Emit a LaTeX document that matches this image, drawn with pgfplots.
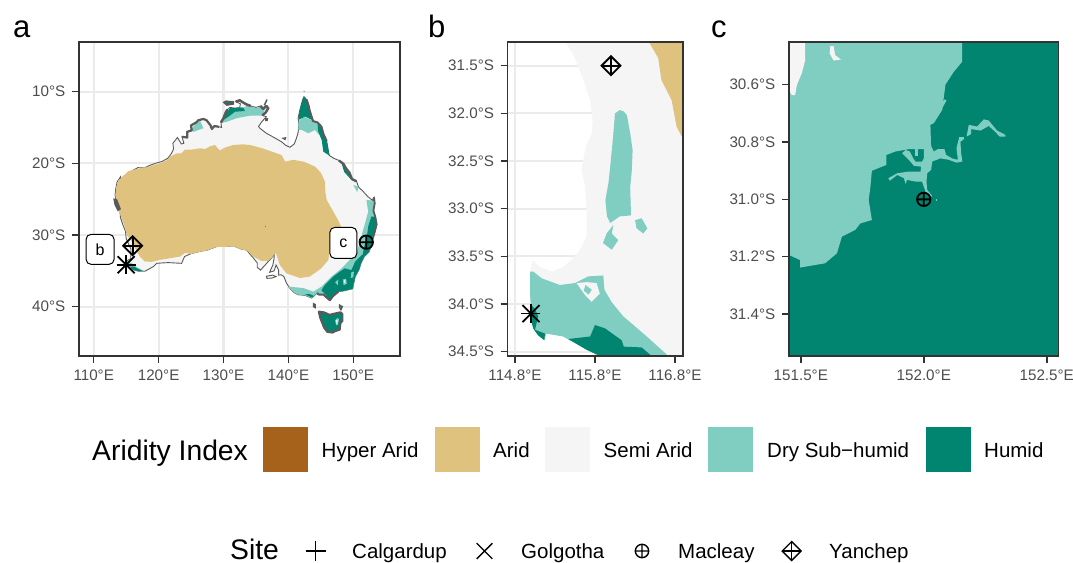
\documentclass[border=0pt]{standalone}
\usepackage{pgfplots}
\pgfplotsset{compat=1.18}
\usepackage{fontspec}
\setmainfont{Liberation Sans}
\definecolor{hyper}{HTML}{A6611A}
\definecolor{arid}{HTML}{DFC27D}
\definecolor{semi}{HTML}{F5F5F5}
\definecolor{dry}{HTML}{80CDC1}
\definecolor{humid}{HTML}{018571}
\definecolor{gridc}{HTML}{EBEBEB}
\definecolor{framec}{HTML}{333333}
\definecolor{tickc}{HTML}{4D4D4D}
\definecolor{coast}{HTML}{5A5A5A}
\pgfplotsset{
  panel/.style={
    scale only axis, anchor=south west, height=314pt,
    xtick pos=bottom, ytick pos=left, tick align=outside,
    major tick length=7pt, tick style={color=framec,line width=1.5pt},
    grid=major, grid style={color=gridc,line width=2.2pt},
    axis line style={color=framec,line width=1.5pt},
    ticklabel style={font=\fontsize{15.2}{16}\selectfont,color=tickc,inner sep=0pt},
    xticklabel style={yshift=-7pt},
    yticklabel style={xshift=-6.5pt},
    after end axis/.code={\draw[color=framec,line width=1.5pt] (rel axis cs:0,0) rectangle (rel axis cs:1,1);},
  },
  fil/.style={draw=none,fill=#1},
  rug/.style={draw=coast,line width=#1,line join=round},
  site/.style={only marks,black,line width=1.8pt},
  lsite/.style={only marks,black,line width=1.4pt},
}
\begin{document}
\begin{tikzpicture}[x=1pt,y=1pt]
\useasboundingbox (0,0) rectangle (1073,562);
% ------- panel a
\begin{axis}[panel, at={(79pt,206pt)}, width=321pt,
  xmin=107.73,xmax=157.2,ymin=-46.88,ymax=-3.07,
  xtick={110,120,130,140,150}, xticklabels={110°E,120°E,130°E,140°E,150°E},
  ytick={-40,-30,-20,-10}, yticklabels={40°S,30°S,20°S,10°S}]
% land
\addplot[draw=coast,line width=0.9pt,fill=semi] coordinates {
(114.15,-21.85)(114.2,-22.4)(114.6,-21.8)(115.1,-21.6)(116.0,-21.0)(116.8,-20.6)(117.8,-20.65)(118.6,-20.3)(119.5,-20.0)(120.5,-19.75)(121.4,-19.3)(122.0,-18.6)(122.3,-18.0)(122.2,-17.2)(122.9,-16.4)(123.5,-17.3)(123.9,-17.2)(123.6,-16.3)(124.4,-16.4)(124.4,-15.6)(125.1,-15.4)(125.0,-14.7)(125.8,-14.3)(126.1,-14.0)(126.9,-13.8)(127.4,-14.0)(128.0,-14.7)(128.2,-15.2)(128.6,-14.8)(129.3,-14.9)(129.7,-15.0)(129.6,-14.3)(130.0,-13.7)(130.3,-13.0)(130.6,-12.5)(131.0,-12.2)(131.8,-12.3)(132.5,-12.2)(132.6,-11.7)(131.9,-11.4)(132.5,-11.2)(133.0,-11.5)(133.6,-11.8)(134.2,-12.0)(135.0,-12.2)(135.7,-12.0)(136.1,-12.4)(136.6,-12.0)(136.9,-12.3)(136.5,-12.9)(136.0,-13.3)(136.6,-13.5)(135.9,-14.2)(135.4,-14.85)(135.6,-15.1)(136.6,-15.8)(137.8,-16.4)(138.96,-17.0)(139.6,-17.5)(140.25,-17.76)(140.9,-17.3)(141.2,-16.6)(141.5,-15.7)(141.6,-14.7)(141.5,-13.7)(141.7,-12.8)(141.9,-12.1)(142.2,-11.1)(142.4,-10.7)(142.8,-11.1)(143.1,-11.9)(143.3,-12.7)(143.8,-14.1)(144.5,-14.3)(145.1,-14.9)(145.4,-15.9)(145.9,-16.9)(146.1,-17.9)(146.3,-18.9)(147.0,-19.3)(147.8,-19.6)(148.5,-20.1)(148.8,-20.6)(149.4,-21.3)(149.8,-22.2)(150.5,-22.5)(150.8,-23.3)(151.5,-23.9)(152.2,-24.6)(153.0,-25.2)(153.2,-24.8)(153.3,-25.6)(153.1,-26.6)(153.4,-27.5)(153.6,-28.5)(153.3,-29.6)(153.0,-30.5)(152.8,-31.5)(152.4,-32.4)(151.7,-33.0)(151.2,-33.9)(150.9,-34.8)(150.3,-35.8)(150.0,-37.0)(149.9,-37.5)(148.5,-37.8)(147.7,-37.9)(146.9,-38.5)(146.4,-39.1)(146.0,-38.8)(145.4,-38.3)(144.7,-38.3)(144.4,-38.1)(143.6,-38.8)(142.5,-38.4)(141.6,-38.35)(140.9,-38.05)(140.2,-37.4)(139.7,-36.7)(139.3,-35.8)(138.9,-35.55)(138.5,-35.6)(138.5,-34.9)(138.1,-34.2)(137.8,-35.0)(137.1,-35.2)(137.6,-34.2)(137.8,-33.2)(137.8,-32.6)(137.5,-33.1)(136.9,-33.7)(136.2,-34.4)(135.7,-34.9)(135.2,-34.5)(135.2,-33.9)(134.5,-33.1)(134.1,-32.7)(133.6,-32.1)(132.7,-31.95)(131.5,-31.5)(130.5,-31.6)(129.0,-31.6)(127.5,-32.1)(126.3,-32.3)(125.0,-32.6)(124.0,-33.0)(123.55,-33.95)(122.5,-33.9)(121.5,-33.85)(120.5,-33.9)(119.7,-33.95)(119.2,-34.4)(118.4,-34.8)(117.9,-35.05)(116.9,-35.05)(116.1,-34.85)(115.6,-34.45)(115.15,-34.35)(115.0,-34.0)(115.1,-33.6)(115.7,-33.3)(115.7,-32.6)(115.75,-32.0)(115.4,-31.3)(115.0,-30.5)(114.9,-29.5)(114.5,-28.6)(114.1,-27.5)(114.05,-26.5)(113.4,-25.9)(113.8,-26.3)(113.4,-25.4)(113.3,-24.4)(113.4,-23.5)(113.6,-22.6)
} --cycle;
% arid
\addplot[fil=arid] coordinates {
(113.8,-22.4)(114.3,-22.0)(115.3,-21.1)(116.8,-20.75)(118.6,-20.45)(120.5,-19.9)(121.2,-19.6)(121.76,-19.07)(122.8,-18.6)(123.5,-18.6)(124.07,-18.1)(125.0,-18.1)(126.4,-17.9)(127.2,-18.0)(128.0,-17.6)(128.7,-17.44)(129.1,-17.9)(129.46,-18.2)(130.2,-17.8)(131.5,-17.44)(133,-17.35)(134.08,-17.44)(136,-17.9)(138.96,-18.85)(139.5,-19.76)(140.76,-19.5)(142.5,-19.8)(144.1,-20.46)(145,-21.3)(145.64,-22.55)(145.7,-24.0)(145.9,-25.1)(146.9,-26.7)(147.6,-27.8)(148.1,-28.8)(147.5,-29.3)(147.2,-29.8)(146.6,-30.7)(146.3,-32.6)(146.15,-33.5)(145,-34.7)(143.3,-35.8)(141.8,-36)(139.7,-35.35)(138.7,-34.2)(138.1,-32.6)(137.9,-32.6)(137.5,-33.1)(136.9,-33.6)(136.5,-33.6)(135.8,-33.6)(135,-33.2)(134.4,-32.9)(133.7,-32.2)(132.54,-31.95)(131.5,-31.55)(130.5,-31.65)(128.95,-31.65)(127.5,-32.15)(126.3,-32.35)(125,-32.65)(124.07,-32.5)(123.3,-33.0)(122,-33.2)(120,-33.5)(118.9,-33.75)(117.9,-33.7)(117.2,-33.1)(116.62,-32.3)(115.9,-30.9)(115.08,-30.0)(114.7,-28.6)(114.05,-27)(113.5,-25.8)(113.35,-24.4)(113.5,-23.2)
} --cycle;
\addplot[fil=hyper] coordinates {(136.35,-28.7)(136.55,-28.7)(136.55,-28.9)(136.35,-28.9)} --cycle;
% dry and humid, north
\addplot[fil=dry] coordinates {(129.56,-14.4)(130.0,-13.7)(130.3,-13.0)(130.75,-12.55)(131,-12.3)(131.8,-12.3)(132.5,-12.2)(133.06,-12.2)(133.6,-12.0)(134.2,-12.1)(135.0,-12.3)(135.7,-12.1)(136.1,-12.4)(136.4,-12.4)(135.9,-13.35)(134.08,-13.35)(132.03,-13.7)(130.5,-14.2)} --cycle;
\addplot[fil=humid] coordinates {(129.97,-13.95)(130.3,-13.1)(130.75,-12.6)(131,-12.3)(131.8,-12.3)(132.5,-12.2)(133.06,-12.25)(133.3,-12.7)(131.77,-12.8)(130.75,-13.5)} --cycle;
\addplot[fil=dry] coordinates {(124.9,-15.3)(125.1,-15.2)(125.8,-14.4)(126.4,-14.1)(126.9,-15.1)(125.4,-15.6)} --cycle;
% Cape York
\addplot[fil=dry] coordinates {(141.53,-15.34)(141.55,-14.18)(142.3,-13.48)(143.6,-13.95)(144.46,-14.55)(144.72,-16.04)(144.1,-15.34)(143.07,-15.8)(142.04,-15.34)} --cycle;
\addplot[fil=humid] coordinates {(141.53,-13.95)(141.7,-12.8)(141.9,-12.1)(142.2,-11.1)(142.4,-10.7)(142.8,-11.1)(143.1,-11.9)(143.3,-12.7)(143.7,-13.95)(142.56,-13.48)} --cycle;
\addplot[fil=humid] coordinates {(144.46,-14.4)(145.1,-14.9)(145.4,-15.9)(145.9,-16.9)(146.1,-17.9)(146.3,-18.9)(145.38,-18.37)(145.13,-16.74)(144.6,-15.6)} --cycle;
\addplot[fil=humid] coordinates {(148.2,-20.0)(148.5,-20.1)(148.8,-20.6)(149.4,-21.3)(149.7,-22.3)(148.6,-21.2)} --cycle;
\addplot[fil=dry] coordinates {(150.0,-23.0)(150.8,-23.3)(150.6,-24.0)} --cycle;
% east and south-east
\addplot[fil=dry] coordinates {(152.06,-25.1)(153.0,-25.2)(153.2,-24.8)(153.3,-25.6)(153.1,-26.6)(153.4,-27.5)(153.6,-28.5)(153.3,-29.6)(153.0,-30.5)(152.8,-31.5)(152.4,-32.4)(151.7,-33.0)(151.2,-33.9)(150.9,-34.8)(150.3,-35.8)(150.0,-37.0)(149.9,-37.5)(148.5,-37.8)(147.7,-37.9)(146.9,-38.5)(146.4,-39.1)(146.0,-38.8)(145.4,-38.3)(144.7,-38.3)(144.4,-38.1)(143.6,-38.8)(142.5,-38.4)(141.6,-38.35)(140.9,-38.05)(140.2,-37.4)(139.98,-37.2)(142.3,-37.4)(143.84,-37.9)(145.1,-37.2)(146.66,-35.8)(148.2,-34.65)(149.2,-33.7)(150.5,-32.56)(151.3,-30)(151.8,-28.4)(152.3,-26.75)(152.06,-25.35)} --cycle;
\addplot[fil=humid] coordinates {(152.8,-27.4)(153.4,-27.5)(153.6,-28.5)(153.3,-29.6)(153.0,-30.5)(152.8,-31.5)(152.4,-32.4)(151.7,-33.0)(151.2,-33.9)(150.9,-34.8)(150.3,-35.8)(150.0,-37.0)(149.9,-37.5)(148.5,-37.8)(147.7,-37.9)(146.9,-38.5)(146.4,-39.0)(146.0,-38.6)(145.6,-38.2)(145.1,-37.7)(145.6,-37)(146.9,-35.8)(147.95,-35.1)(148.7,-34.65)(149.7,-34.9)(150.3,-33.7)(151.3,-32.8)(152.06,-30.5)(152.3,-28.8)} --cycle;
\addplot[fil=dry] coordinates {(148.4,-36.2)(148.9,-36.1)(149.0,-36.8)(148.5,-37.0)} --cycle;
\addplot[fil=semi] coordinates {(148.6,-36.3)(148.8,-36.3)(148.8,-36.6)(148.6,-36.7)} --cycle;
\addplot[fil=dry] coordinates {(149.7,-35.2)(150.1,-35.1)(150.0,-35.9)(149.6,-36)} --cycle;
\addplot[fil=dry] coordinates {(147.2,-36.6)(147.7,-36.2)(147.6,-37.0)} --cycle;
\addplot[fil=dry] coordinates {(151.0,-32.3)(151.6,-32.0)(151.4,-32.8)} --cycle;
\addplot[fil=humid] coordinates {(142.6,-38.3)(143.6,-38.7)(143.9,-38.5)(143.2,-38.2)} --cycle;
% south-west
\addplot[fil=dry] coordinates {(115.1,-33.6)(115.5,-33.8)(116,-34.0)(116.8,-34.6)(117.9,-35.05)(116.9,-35.05)(116.1,-34.85)(115.6,-34.45)(115.15,-34.35)(115.0,-34.0)} --cycle;
\addplot[fil=humid] coordinates {(115.6,-34.4)(116.2,-34.4)(116.6,-34.6)(117.5,-35.0)(116.9,-35.05)(116.1,-34.85)} --cycle;
% rugged stretches of the coast
\addplot[rug=2.2pt] coordinates {(123.6,-16.3)(124.4,-16.4)(124.4,-15.6)(125.1,-15.4)(125.0,-14.7)(125.8,-14.3)(126.1,-14.0)(126.9,-13.8)(127.4,-14.0)(128.0,-14.7)(128.2,-15.2)(128.6,-14.8)(129.3,-14.9)};
\addplot[rug=2.5pt] coordinates {(129.6,-14.3)(130.0,-13.7)(130.3,-13.0)(130.6,-12.5)};
\addplot[rug=2.5pt] coordinates {(131.9,-11.4)(132.5,-11.2)(133.0,-11.5)(133.6,-11.8)(134.2,-12.0)};
\addplot[rug=2.5pt] coordinates {(135.7,-12.0)(136.1,-12.4)(136.6,-12.0)(136.9,-12.3)(136.5,-12.9)(136.0,-13.3)};
\addplot[rug=2pt] coordinates {(142.8,-11.1)(143.1,-11.9)(143.3,-12.7)(143.8,-14.1)(144.5,-14.3)(145.1,-14.9)(145.4,-15.9)(145.9,-16.9)};
\addplot[rug=2.4pt] coordinates {(147.8,-19.6)(148.5,-20.1)(148.8,-20.6)(149.4,-21.3)(149.8,-22.2)(150.5,-22.5)};
\addplot[rug=1.8pt] coordinates {(153.0,-25.2)(153.2,-24.8)(153.3,-25.6)(153.1,-26.6)(153.4,-27.5)(153.6,-28.5)(153.3,-29.6)(153.0,-30.5)};
\addplot[rug=2pt] coordinates {(147.7,-37.9)(146.9,-38.5)(146.4,-39.1)(146.0,-38.8)(145.4,-38.3)(144.7,-38.3)(144.4,-38.1)};
% Tasmania and islands
\addplot[draw=coast,line width=2.2pt,fill=humid,line join=round] coordinates {(144.7,-40.7)(145.5,-40.8)(146.3,-41.15)(147.0,-41.0)(148.0,-40.8)(148.3,-41.0)(148.3,-42.0)(148.0,-42.3)(147.9,-43.2)(147.2,-43.4)(146.8,-43.6)(146.0,-43.5)(145.5,-42.9)(145.2,-42.2)(144.9,-41.5)} --cycle;
\addplot[fil=dry] coordinates {(147.2,-41.9)(147.5,-41.6)(147.8,-41.7)(147.65,-42.5)(147.35,-42.6)} --cycle;
\addplot[fil=semi] coordinates {(147.35,-41.9)(147.6,-41.85)(147.55,-42.3)(147.4,-42.4)} --cycle;
\addplot[draw=coast,line width=1.5pt,fill=humid] coordinates {(143.9,-39.6)(144.1,-39.7)(144.1,-40.1)(143.9,-40.0)} --cycle;
\addplot[draw=coast,line width=1.5pt,fill=dry] coordinates {(147.9,-39.8)(148.3,-40)(148.1,-40.4)(147.9,-40.1)} --cycle;
\addplot[draw=coast,line width=0.9pt,fill=semi] coordinates {(136.6,-35.75)(137.6,-35.6)(138.1,-35.8)(137.5,-36.0)(136.7,-36.05)} --cycle;
\addplot[draw=coast,line width=1.8pt,fill=humid] coordinates {(130.1,-11.5)(130.4,-11.35)(131.5,-11.45)(131.5,-11.7)(130.5,-11.85)} --cycle;
\addplot[fil=coast] coordinates {(136.4,-13.7)(136.9,-13.7)(136.8,-14.1)(136.4,-14.1)} --cycle;
\addplot[draw=coast,line width=0.9pt,fill=semi] coordinates {(139.1,-16.5)(139.6,-16.4)(139.5,-16.7)} --cycle;
\addplot[rug=1.5pt] coordinates {(136.3,-11.9)(136.7,-11.1)};
\addplot[fil=coast] coordinates {(142.3,-9.9)(142.5,-9.9)(142.45,-10.05)} --cycle;
\addplot[fil=coast] coordinates {(113.0,-24.9)(113.6,-25.0)(114.2,-26.4)(113.7,-26.7)(113.2,-25.8)} --cycle;
% boxes
\node[draw=black,fill=white,rounded corners=5pt,line width=1pt,minimum width=28pt,minimum height=30pt,inner sep=0pt,font=\fontsize{16}{17}\selectfont] at (axis cs:110.98,-32.0) {b};
\node[draw=black,fill=white,rounded corners=5pt,line width=1pt,minimum width=27pt,minimum height=31pt,inner sep=0pt,font=\fontsize{16}{17}\selectfont] at (axis cs:148.47,-31.1) {c};
% sites
\addplot[site,mark=+,mark size=9.5pt] coordinates {(115.0,-34.15)};
\addplot[site,mark=x,mark size=12pt] coordinates {(115.0,-34.15)};
\addplot[site,mark=oplus,mark size=6.7pt] coordinates {(152.0,-31.0)};
\addplot[site,mark=+,mark size=9.5pt] coordinates {(116.0,-31.5)};
\addplot[site,mark=square,mark size=6.7pt,mark options={rotate=45}] coordinates {(116.0,-31.5)};
\end{axis}
% ------- panel b
\begin{axis}[panel, at={(507.7pt,206pt)}, width=175.3pt,
  xmin=114.709,xmax=116.9,ymin=-34.545,ymax=-31.251,
  xtick={114.8,115.8,116.8}, xticklabels={114.8°E,115.8°E,116.8°E},
  ytick={-34.5,-34,-33.5,-33,-32.5,-32,-31.5}, yticklabels={34.5°S,34.0°S,33.5°S,33.0°S,32.5°S,32.0°S,31.5°S}]
\addplot[fil=semi] coordinates {(115.433,-31.251)(115.55,-31.42)(115.654,-31.65)(115.74,-31.86)(115.77,-32.07)(115.76,-32.21)(115.683,-32.35)(115.633,-32.59)(115.675,-32.77)(115.696,-33.05)(115.696,-33.29)(115.62,-33.42)(115.55,-33.5)(115.404,-33.61)(115.258,-33.66)(115.11,-33.61)(115.02,-33.54)(114.99,-33.66)(114.99,-33.92)(115.01,-34.17)(115.05,-34.27)(115.167,-34.38)(115.19,-34.31)(115.40,-34.34)(115.70,-34.48)(115.86,-34.545)(116.9,-34.545)(116.9,-31.251)} --cycle;
\addplot[fil=arid] coordinates {(116.475,-31.251)(116.59,-31.42)(116.63,-31.65)(116.758,-31.86)(116.82,-32.14)(116.883,-32.24)(116.9,-32.24)(116.9,-31.251)} --cycle;
\addplot[fil=dry] coordinates {(114.99,-33.66)(115.03,-33.66)(115.133,-33.73)(115.36,-33.8)(115.55,-33.78)(115.717,-33.71)(115.904,-33.7)(115.917,-33.85)(116.008,-33.98)(116.154,-34.13)(116.28,-34.22)(116.446,-34.34)(116.717,-34.545)(115.86,-34.545)(115.70,-34.48)(115.40,-34.34)(115.19,-34.31)(115.167,-34.38)(115.05,-34.27)(115.01,-34.17)(114.99,-33.92)} --cycle;
\addplot[fil=semi] coordinates {(115.57,-33.78)(115.675,-33.905)(115.758,-33.976)(115.86,-33.89)(115.82,-33.78)(115.696,-33.77)} --cycle;
\addplot[fil=dry] coordinates {(115.68,-33.8)(115.76,-33.85)(115.72,-33.9)(115.66,-33.86)} --cycle;
\addplot[fil=humid] coordinates {(115.467,-34.367)(115.74,-34.34)(115.8,-34.22)(115.925,-34.255)(116.133,-34.38)(116.16,-34.447)(116.383,-34.455)(116.508,-34.545)(115.862,-34.545)(115.696,-34.48)} --cycle;
\addplot[fil=humid] coordinates {(115,-34.01)(115.05,-34.05)(115.09,-34.13)(115.05,-34.27)(115.175,-34.31)(115.167,-34.38)(115.09,-34.33)(115.03,-34.26)(115,-34.17)} --cycle;
\addplot[fil=dry] coordinates {(116.11,-31.965)(116.16,-31.98)(116.2,-32.02)(116.24,-32.21)(116.27,-32.385)(116.26,-32.6)(116.24,-32.77)(116.25,-33.07)(116.11,-33.08)(115.99,-33.15)(115.95,-33.08)(115.93,-32.91)(115.97,-32.72)(115.99,-32.56)(116.03,-32.21)(116.05,-32.0)} --cycle;
\addplot[fil=dry] coordinates {(116.03,-33.17)(116.01,-33.26)(116.09,-33.33)(116.01,-33.43)(115.9,-33.36)(115.946,-33.26)} --cycle;
\addplot[fil=dry] coordinates {(116.3,-33.12)(116.383,-33.10)(116.454,-33.206)(116.404,-33.26)(116.32,-33.206)} --cycle;
\addplot[site,mark=+,mark size=9.5pt] coordinates {(115.0,-34.1)};
\addplot[site,mark=x,mark size=12pt] coordinates {(115.0,-34.1)};
\addplot[site,mark=+,mark size=9.5pt] coordinates {(116.0,-31.5)};
\addplot[site,mark=square,mark size=6.7pt,mark options={rotate=45}] coordinates {(116.0,-31.5)};
\end{axis}
% ------- panel c
\begin{axis}[panel, at={(789pt,206pt)}, width=269.3pt,
  xmin=151.452,xmax=152.547,ymin=-31.5465,ymax=-30.451,
  xtick={151.5,152,152.5}, xticklabels={151.5°E,152.0°E,152.5°E},
  ytick={-31.4,-31.2,-31,-30.8,-30.6}, yticklabels={31.4°S,31.2°S,31.0°S,30.8°S,30.6°S}]
\addplot[fil=humid] coordinates {(151.452,-31.5465)(152.547,-31.5465)(152.547,-30.451)(151.452,-30.451)} --cycle;
\addplot[fil=dry] coordinates {(152.156,-30.451)(152.156,-30.52)(152.122,-30.555)(152.088,-30.60)(152.075,-30.688)(152.041,-30.734)(152.027,-30.74)(152.03,-30.825)(151.939,-30.825)(151.885,-30.833)(151.848,-30.845)(151.848,-30.88)(151.789,-30.9)(151.783,-30.956)(151.776,-31.002)(151.789,-31.072)(151.742,-31.084)(151.721,-31.107)(151.667,-31.13)(151.647,-31.188)(151.599,-31.223)(151.497,-31.238)(151.497,-31.212)(151.452,-31.194)(151.452,-30.451)} --cycle;
\addplot[fil=semi] coordinates {(151.452,-30.451)(151.518,-30.451)(151.518,-30.514)(151.504,-30.56)(151.484,-30.601)(151.477,-30.636)(151.463,-30.636)(151.452,-30.619)} --cycle;
\addplot[fil=semi] coordinates {(151.62,-30.465)(151.633,-30.465)(151.64,-30.497)(151.663,-30.512)(151.633,-30.516)(151.617,-30.49)} --cycle;
% estuary
\addplot[fil=dry] coordinates {(151.912,-30.839)(151.926,-30.828)(151.943,-30.833)(151.957,-30.857)(151.966,-30.868)(151.993,-30.868)(152.000,-30.857)(152.000,-30.825)(152.027,-30.810)(152.041,-30.833)(152.057,-30.825)(152.084,-30.825)(152.091,-30.845)(152.115,-30.857)(152.136,-30.862)(152.133,-30.872)(152.102,-30.862)(152.068,-30.857)(152.034,-30.868)(152.030,-30.897)(152.014,-30.909)(152.011,-30.938)(152.014,-30.967)(152.034,-30.988)(152.027,-30.993)(152.007,-30.973)(151.993,-30.938)(151.966,-30.938)(151.932,-30.932)(151.926,-30.946)(151.919,-30.926)(151.892,-30.915)(151.862,-30.935)(151.856,-30.926)(151.892,-30.909)(151.939,-30.903)(151.987,-30.903)(151.989,-30.886)(151.960,-30.883)(151.939,-30.862)(151.926,-30.851)} --cycle;
\addplot[fil=dry] coordinates {(151.966,-30.825)(151.976,-30.825)(151.976,-30.848)(151.966,-30.848)} --cycle;
\addplot[fil=dry] coordinates {(152.133,-30.872)(152.157,-30.868)(152.152,-30.839)(152.149,-30.799)(152.163,-30.790)(152.163,-30.783)(152.144,-30.783)(152.133,-30.822)(152.138,-30.857)} --cycle;
\addplot[fil=dry] coordinates {(152.174,-30.781)(152.183,-30.740)(152.217,-30.746)(152.244,-30.721)(152.264,-30.725)(152.298,-30.760)(152.332,-30.775)(152.332,-30.781)(152.309,-30.781)(152.285,-30.760)(152.264,-30.744)(152.231,-30.760)(152.193,-30.755)(152.193,-30.772)} --cycle;
\addplot[fil=dry] coordinates {(152.049,-30.999)(152.055,-30.999)(152.055,-31.005)(152.049,-31.005)} --cycle;
\addplot[draw=dry,line width=2.5pt] coordinates {(152.061,-30.694)(152.088,-30.653)};
\addplot[site,mark=oplus,mark size=6.7pt] coordinates {(152.0,-31.0)};
\end{axis}
% ------- page-wide axis for legends and panel letters, in picture pixels
\begin{axis}[scale only axis, anchor=south west, at={(0pt,0pt)}, width=1073pt, height=562pt,
  xmin=0,xmax=1073,ymin=0,ymax=562,y dir=reverse,hide axis,clip=false]
\begin{scope}[every node/.style={anchor=base west,inner sep=0pt,font=\fontsize{31}{32}\selectfont}]
\node at (axis cs:13,37.7) {a};
\node at (axis cs:428,37.7) {b};
\node at (axis cs:711,37.7) {c};
\end{scope}
\addplot[fil=hyper] coordinates {(263,427)(308,427)(308,472)(263,472)} --cycle;
\addplot[fil=arid] coordinates {(435,427)(480,427)(480,472)(435,472)} --cycle;
\addplot[fil=semi] coordinates {(545,427)(590,427)(590,472)(545,472)} --cycle;
\addplot[fil=dry] coordinates {(708,427)(753,427)(753,472)(708,472)} --cycle;
\addplot[fil=humid] coordinates {(926,427)(971,427)(971,472)(926,472)} --cycle;
\node[anchor=base west,inner sep=0pt,font=\fontsize{28.3}{30}\selectfont] at (axis cs:92,460) {Aridity Index};
\begin{scope}[every node/.style={anchor=base west,inner sep=0pt,font=\fontsize{20.5}{22}\selectfont}]
\node at (axis cs:321.5,457) {Hyper Arid};
\node at (axis cs:493,457) {Arid};
\node at (axis cs:603.5,457) {Semi Arid};
\node at (axis cs:767,457) {Dry Sub−humid};
\node at (axis cs:984,457) {Humid};
\node at (axis cs:352,558.3) {Calgardup};
\node at (axis cs:521,558.3) {Golgotha};
\node at (axis cs:678,558.3) {Macleay};
\node at (axis cs:829,558.3) {Yanchep};
\end{scope}
\node[anchor=base west,inner sep=0pt,font=\fontsize{28.3}{30}\selectfont] at (axis cs:230,559.5) {Site};
\addplot[lsite,mark=+,mark size=10pt] coordinates {(315.6,551)};
\addplot[lsite,mark=x,mark size=11pt] coordinates {(484.5,551)};
\addplot[lsite,mark=oplus,mark size=6.7pt] coordinates {(642,551)};
\addplot[lsite,mark=+,mark size=9.5pt] coordinates {(791.7,551)};
\addplot[lsite,mark=square,mark size=6.7pt,mark options={rotate=45}] coordinates {(791.7,551)};
\end{axis}
\end{tikzpicture}
\end{document}
